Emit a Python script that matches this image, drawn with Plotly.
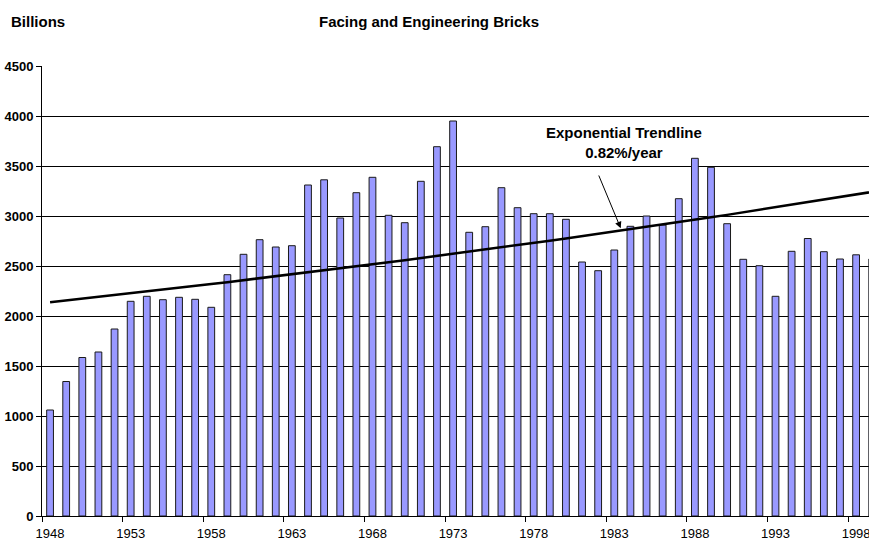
import numpy as np
import plotly.graph_objects as go

# Annual production, billions
years = list(range(1948, 2000))
bricks = [1060, 1345, 1585, 1640, 1870, 2147, 2197, 2163, 2187, 2167,
          2087, 2413, 2617, 2763, 2690, 2703, 3310, 3362, 2980, 3233,
          3387, 3007, 2933, 3347, 3693, 3950, 2837, 2893, 3283, 3083,
          3023, 3023, 2967, 2540, 2453, 2660, 2897, 3000, 2910, 3173,
          3577, 3487, 2923, 2567, 2503, 2197, 2647, 2775, 2643, 2570,
          2612, 2570]
tick_years = list(range(1948, 1999, 5))
trend_label = "<b>Exponential Trendline<br>0.82%/year</b>"

FONT = "Liberation Sans, Arial, sans-serif"

# exponential trendline (least squares on log values, like Excel)
b, a = np.polyfit(np.array(years) - 1948, np.log(bricks), 1)
trend_x = list(range(1948, 2001))
trend_y = np.exp(a + b * (np.array(trend_x) - 1948))

fig = go.Figure()
fig.add_trace(go.Bar(x=years, y=bricks, width=0.42,
                     marker=dict(color="#9999FF", line=dict(color="#1a1a1a", width=1))))
fig.add_trace(go.Scatter(x=trend_x, y=trend_y, mode="lines",
                         line=dict(color="black", width=2.5)))

fig.add_annotation(x=1983.6, y=3740, xref="x", yref="y", text=trend_label,
                   showarrow=False, font=dict(family=FONT, size=15, color="black"))
fig.add_annotation(x=1983.4, y=2877, ax=1982.0, ay=3420, xref="x", yref="y",
                   axref="x", ayref="y", text="", showarrow=True,
                   arrowhead=2, arrowsize=1.3, arrowwidth=1, arrowcolor="black")
fig.add_annotation(x=-0.040, y=1.098, xref="paper", yref="paper", text="<b>Billions</b>",
                   xanchor="left", yanchor="middle", showarrow=False,
                   font=dict(family=FONT, size=15, color="black"))

fig.update_layout(
    width=869, height=542,
    margin=dict(l=42, r=0, t=66, b=26, autoexpand=False),
    plot_bgcolor="white", paper_bgcolor="white",
    showlegend=False,
    title=dict(text="<b>Facing and Engineering Bricks</b>", x=429 / 869, xanchor="center",
               y=1 - 22 / 542, yanchor="middle",
               font=dict(family=FONT, size=15, color="black")),
    font=dict(family=FONT, color="black"),
)
fig.update_xaxes(range=[1947.5, 1998.8], tickvals=tick_years, ticktext=[str(y) for y in tick_years],
                 ticks="outside", ticklen=5, tickcolor="rgba(0,0,0,0)", automargin=False,
                 ticklabeloverflow="allow",
                 minor=dict(ticks="outside", tick0=1947.5, dtick=5, ticklen=5, tickcolor="black"),
                 showline=True, linecolor="black", linewidth=1, showgrid=False, zeroline=False,
                 tickfont=dict(family=FONT, size=13, color="black"), tickprefix="<b>", ticksuffix="</b>")
fig.update_yaxes(range=[0, 4500], dtick=500, tick0=0, ticks="outside", ticklen=5, tickcolor="black",
                 showline=True, linecolor="black", linewidth=1, showgrid=True, gridcolor="black",
                 gridwidth=1, zeroline=False, automargin=False,
                 tickfont=dict(family=FONT, size=13, color="black"), tickprefix="<b>", ticksuffix="</b>")

# the page's default 8px body margin would shift the chart
fig.write_html("out.html", config={"displayModeBar": False},
               post_script="document.body.style.margin='0';document.body.style.overflow='hidden';")
